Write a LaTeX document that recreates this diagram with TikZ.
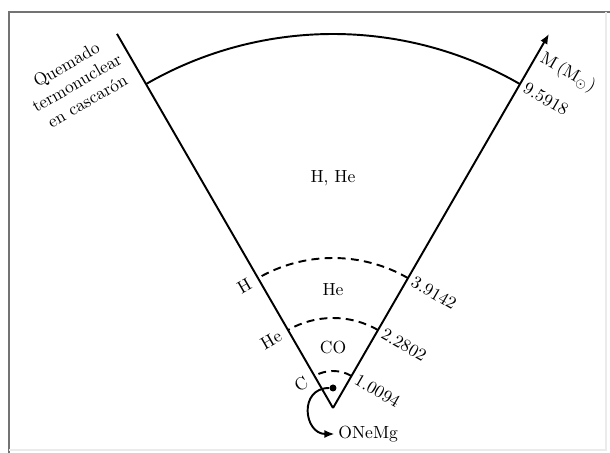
\documentclass[tikz,border=0pt]{standalone}
\usepackage{amsmath,amssymb}
\usepackage{xcolor}
\usepackage{tikz}
\usetikzlibrary{arrows.meta}

\begin{document}
\begin{tikzpicture}[
  font=\normalsize,
  shl/.style  = {line width=1.1pt},
  bnd/.style  = {line width=1.1pt, dash pattern=on 4.5pt off 3pt},
  tip/.style  = {-{Latex[length=2mm, width=1.6mm]}},
  rlbl/.style = {anchor=west, rotate=-30, inner sep=3pt},
  llbl/.style = {anchor=east, rotate=30, inner sep=5pt},
  zone/.style = {inner sep=1pt}
]
\useasboundingbox (-6.66,-0.9) rectangle (5.54,8.16);

% ---------- frame ----------------------------------------------------------
\draw[black!55, line width=1.2pt] (-6.48,-0.9) -- (-6.48,7.92) -- (5.54,7.92);
\draw[black!8, line width=0.6pt] (5.46,7.92) -- (5.46,-0.84) -- (-6.48,-0.84);

% ---------- cone -----------------------------------------------------------
\coordinate (o) at (0,0);
\coordinate (ltop) at (120:8.64);
\coordinate (rtop) at (60:8.64);
\draw[shl] (o) -- (ltop);
\draw[shl, tip] (o) -- (rtop);

% ---------- shells ---------------------------------------------------------
\coordinate (sr) at (60:7.48);
\coordinate (hr) at (60:3);
\coordinate (her) at (60:1.8);
\coordinate (cr) at (60:0.74);
\draw[shl] (sr) arc[start angle=60, end angle=120, radius=7.48]
  coordinate (sl);
\draw[bnd] (hr) arc[start angle=60, end angle=120, radius=3]
  coordinate (hl);
\draw[bnd] (her) arc[start angle=60, end angle=120, radius=1.8]
  coordinate (hel);
\draw[bnd] (cr) arc[start angle=60, end angle=120, radius=0.74]
  coordinate (cl);

% ---------- zones ----------------------------------------------------------
\node[zone] (zhhe) at (0,4.6)  {H, He};
\node[zone] (zhe)  at (0,2.36) {He};
\node[zone] (zco)  at (0,1.2)  {CO};

% ---------- masses ---------------------------------------------------------
\node[rlbl] (m1) at (sr)  {9.5918};
\node[rlbl] (m2) at (hr)  {3.9142};
\node[rlbl] (m3) at (her) {2.2802};
\node[rlbl] (m4) at (cr)  {1.0094};
\node[rlbl] (ax) at (60:8.15) {$\mathrm{M}\,(\mathrm{M}_\odot)$};

% ---------- burning shells -------------------------------------------------
\node[llbl] (bh)  at (hl)  {H};
\node[llbl] (bhe) at (hel) {He};
\node[llbl] (bc)  at (cl)  {C};
\node[llbl, align=center] (qtc) at (120:8.2)
  {Quemado\\termonuclear\\en cascar\'on};

% ---------- core -----------------------------------------------------------
\node[circle, fill, inner sep=0pt, minimum size=1.4mm] (core) at (0,0.4) {};
\node[anchor=west, inner sep=2pt] (onemg) at (0.03,-0.52) {ONeMg};
\draw[shl, tip] (core) to[out=180, in=180, looseness=1.7] (onemg.west);

\end{tikzpicture}
\end{document}
